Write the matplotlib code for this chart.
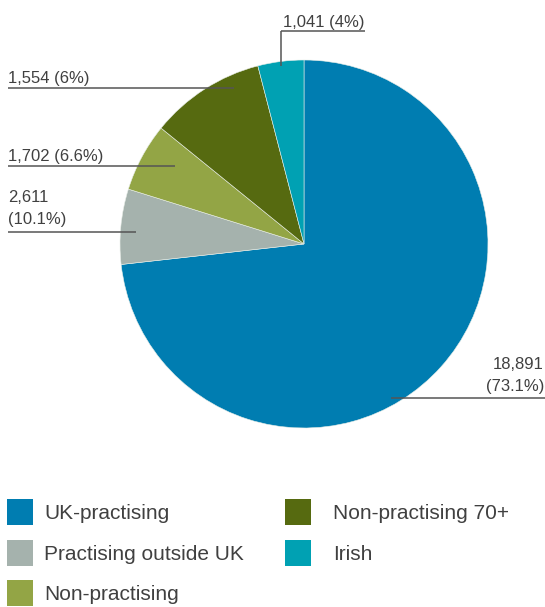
import matplotlib
matplotlib.use("Agg")
import matplotlib.pyplot as plt

plt.rcParams['font.family'] = ['Liberation Sans', 'DejaVu Sans']

# --- data (slices in drawing order, clockwise from 12 o'clock) ---
categories = ['UK-practising', 'Practising outside UK', 'Non-practising',
              'Non-practising 70+', 'Irish']
counts = [18891, 1702, 1554, 2611, 1041]
colors = ['#007db1', '#a5b2ad', '#93a545', '#566a10', '#00a1b3']
# callout texts as printed on the chart, one per slice
callout_text = ['18,891\n(73.1%)', '2,611\n(10.1%)', '1,702 (6.6%)',
                '1,554 (6%)', '1,041 (4%)']

# legend columns
legend_left = [0, 1, 2]
legend_right = [3, 4]

W, H = 545, 607
CX, CY, R = 304, 244, 184   # pie centre / radius in pixels


def px(x, y):
    # pixel position -> pie data coordinates
    return (x - CX) / R, (CY - y) / R


fig = plt.figure(figsize=(W / 100, H / 100), dpi=100)
ax = fig.add_axes([(CX - R) / W, (H - CY - R) / H, 2 * R / W, 2 * R / H])

wedges, _ = ax.pie(counts, colors=colors, startangle=90, counterclock=False,
                   radius=1, wedgeprops=dict(edgecolor='#e8eee8', linewidth=0.4))
ax.set_xlim(-1, 1)
ax.set_ylim(-1, 1)
ax.axis('off')

txt_kw = dict(fontsize=12, color='#404040')
line_kw = dict(color='#555555', lw=1.1, clip_on=False, solid_capstyle='butt')

# layout of callouts: text anchor (px), underline y, underline x-range, ha
callouts = [
    dict(text=(544, 391), ha='right', ly=398, lx=(391, 545)),
    dict(text=(8, 224), ha='left', ly=232, lx=(8, 136)),
    dict(text=(8, 161), ha='left', ly=165.5, lx=(8, 175)),
    dict(text=(8, 83.5), ha='left', ly=88, lx=(8, 234)),
    dict(text=(283, 26.5), ha='left', ly=31, lx=(281, 365), drop=66),
]

for label, c in zip(callout_text, callouts):
    tx, ty = px(*c['text'])
    ax.text(tx, ty, label, ha=c['ha'], va='baseline', linespacing=1.6,
            **txt_kw)
    x0, y0 = px(c['lx'][0], c['ly'])
    x1, _ = px(c['lx'][1], c['ly'])
    ax.plot([x0, x1], [y0, y0], **line_kw)
    if 'drop' in c:
        _, yd = px(0, c['drop'])
        ax.plot([x0, x0], [y0, yd], **line_kw)

leg_kw = dict(loc='upper left', frameon=False, prop=dict(size=15),
              labelcolor='#404040', handlelength=1.25, handleheight=1.55,
              labelspacing=0.7, borderpad=0, borderaxespad=0)

for idx, x0, pad in [(legend_left, 7, 0.55), (legend_right, 285, 1.05)]:
    leg = fig.legend([wedges[i] for i in idx], [categories[i] for i in idx],
                     bbox_to_anchor=(x0 / W, 1 - 499 / H), handletextpad=pad,
                     **leg_kw)
    for h in leg.legend_handles:
        h.set_edgecolor('none')

fig.savefig('out.png', dpi=100)
